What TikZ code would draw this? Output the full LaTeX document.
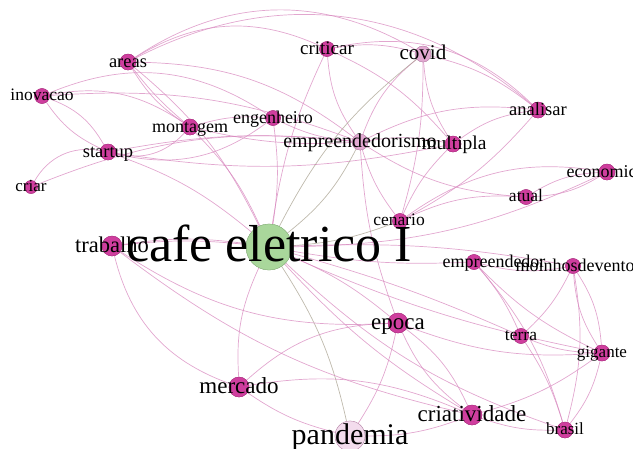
\documentclass[tikz,border=0pt]{standalone}
\usepackage{fontspec}
\setmainfont{Liberation Serif}
\begin{document}
\begin{tikzpicture}[x=1pt,y=-1pt,
  e/.style={draw=edgepink,line width=0.7pt,opacity=0.75},
  eg/.style={draw=edgegray,line width=0.7pt,opacity=0.75},
  dot/.style={circle,fill=nodepink,draw=nodepink!80!black,line width=0.3pt,inner sep=0pt,minimum size=#1},
  dot/.default=15pt,
  lite/.style={circle,fill=nodelite,draw=nodelite!80!black,line width=0.3pt,inner sep=0pt,minimum size=#1},
  hub/.style={circle,fill=nodegreen,draw=nodegreen!80!black,line width=0.3pt,inner sep=0pt,minimum size=46pt},
  lab/.style={anchor=base,inner sep=0pt,text=black,yshift={-0.28pt*#1},font=\fontsize{#1}{#1}\selectfont},
  lab/.default=18
]
\definecolor{edgepink}{HTML}{D889BF}
\definecolor{edgegray}{HTML}{A9A291}
\definecolor{nodepink}{HTML}{CF3E9E}
\definecolor{nodelite}{HTML}{E2A8D1}
\definecolor{nodegreen}{HTML}{A9D79B}
\useasboundingbox (0,0) rectangle (633,448);

% node positions
\coordinate (pcafe) at (269,247);
\coordinate (ptrabalho) at (112,246);
\coordinate (pmercado) at (239,387);
\coordinate (ppandemia) at (350,436);
\coordinate (pcriatividade) at (472,415);
\coordinate (pbrasil) at (565,430);
\coordinate (pgigante) at (602,353);
\coordinate (pterra) at (521,336);
\coordinate (pepoca) at (398,323);
\coordinate (pempreendedor) at (474,262);
\coordinate (pmoinhos) at (573,266);
\coordinate (pcenario) at (400,221);
\coordinate (patual) at (526,197);
\coordinate (peconomico) at (607,172);
\coordinate (pmultipla) at (453,144);
\coordinate (pempreendedorismo) at (360,142);
\coordinate (panalisar) at (538,110);
\coordinate (pcovid) at (423,54);
\coordinate (pcriticar) at (327,49);
\coordinate (pengenheiro) at (273,118);
\coordinate (pmontagem) at (190,127);
\coordinate (pareas) at (128,62);
\coordinate (pinovacao) at (42,96);
\coordinate (pstartup) at (108,152);
\coordinate (pcriar) at (31,187);

% nodes (named, used as edge ends)
\node[hub] (cafe) at (pcafe) {};
\node[dot=20pt] (trabalho) at (ptrabalho) {};
\node[dot=20pt] (mercado) at (pmercado) {};
\node[lite=30pt,fill=nodelite!40] (pandemia) at (ppandemia) {};
\node[dot=20pt] (criatividade) at (pcriatividade) {};
\node[dot=16pt] (brasil) at (pbrasil) {};
\node[dot=16pt] (gigante) at (pgigante) {};
\node[dot=15pt] (terra) at (pterra) {};
\node[dot=20pt] (epoca) at (pepoca) {};
\node[dot=15pt] (empreendedor) at (pempreendedor) {};
\node[dot=15pt] (moinhos) at (pmoinhos) {};
\node[dot=15pt] (cenario) at (pcenario) {};
\node[dot=15pt] (atual) at (patual) {};
\node[dot=16pt] (economico) at (peconomico) {};
\node[dot=16pt] (multipla) at (pmultipla) {};
\node[lite=16pt] (empreendedorismo) at (pempreendedorismo) {};
\node[dot=16pt] (analisar) at (panalisar) {};
\node[lite=16pt] (covid) at (pcovid) {};
\node[dot=15pt] (criticar) at (pcriticar) {};
\node[dot=15pt] (engenheiro) at (pengenheiro) {};
\node[dot=16pt] (montagem) at (pmontagem) {};
\node[dot=16pt] (areas) at (pareas) {};
\node[dot=15pt] (inovacao) at (pinovacao) {};
\node[dot=16pt] (startup) at (pstartup) {};
\node[dot=13pt] (criar) at (pcriar) {};

% upper cluster
\draw[e] (areas) to[bend left=32] (covid);
\draw[e] (areas) to[bend left=34] (analisar);
\draw[e] (areas) to[bend left=28] (criticar);
\draw[e] (criticar) to[bend left=28] (analisar);
\draw[e] (criticar) to[bend left=12] (covid);
\draw[e] (covid) to[bend left=12] (analisar);
\draw[e] (inovacao) to[bend left=28] (engenheiro);
\draw[e] (inovacao) to[bend left=22] (montagem);
\draw[e] (inovacao) to[bend left=12] (empreendedorismo);
\draw[e] (inovacao) to[bend left=20] (startup);
\draw[e] (inovacao) to[bend right=15] (startup);
\draw[e] (areas) to[bend right=12] (montagem);
\draw[e] (areas) to[bend right=6] (montagem);
\draw[e] (areas) to[bend left=12] (cafe);
\draw[e] (areas) to[bend left=18] (empreendedorismo);
\draw[e] (criar) to[bend left=35] (startup);
\draw[e] (criar) to[bend left=14] (empreendedorismo);
\draw[e] (startup) to[bend left=8] (empreendedorismo);
\draw[e] (startup) to[bend right=10] (multipla);
\draw[e] (startup) to[bend right=30] (montagem);
\draw[e] (engenheiro) to[bend left=25] (startup);
\draw[e] (startup) to[bend left=10] (cafe);
\draw[e] (montagem) to[bend left=10] (engenheiro);
\draw[e] (montagem) to[bend left=10] (cafe);
\draw[e] (montagem) to[bend right=8] (empreendedorismo);
\draw[e] (engenheiro) to[bend left=8] (cafe);
\draw[e] (engenheiro) to[bend right=10] (empreendedorismo);
\draw[e] (criticar) to[bend right=15] (empreendedorismo);
\draw[e] (criticar) to[bend left=12] (multipla);
\draw[e] (criticar) to[bend right=8] (cafe);
\draw[e] (covid) to[bend right=15] (empreendedorismo);
\draw[e] (covid) to[bend right=14] (multipla);
\draw[eg] (covid) to[bend right=12] (cafe);
\draw[e] (covid) to[bend left=8] (cenario);
\draw[e] (analisar) to[bend right=16] (empreendedorismo);
\draw[e] (analisar) to[bend right=14] (multipla);
\draw[e] (analisar) to[bend left=10] (cenario);
\draw[e] (empreendedorismo) to[bend left=10] (multipla);
\draw[e] (empreendedorismo) to[bend right=14] (atual);
\draw[eg] (empreendedorismo) to[bend left=12] (cafe);
\draw[e] (empreendedorismo) to[bend right=10] (cenario);
\draw[e] (empreendedorismo) to[bend right=8] (epoca);
\draw[e] (multipla) to[bend right=10] (cenario);
\draw[e] (cenario) to[bend left=14] (atual);
\draw[e] (cenario) to[bend left=22] (economico);
\draw[e] (atual) to[bend left=14] (economico);
\draw[e] (atual) to[bend right=14] (economico);
\draw[e] (economico) to[bend left=12] (cafe);
\draw[eg] (cenario) to[bend left=8] (cafe);

% hub and lower cluster
\draw[e] (cafe) to[bend right=8] (trabalho);
\draw[e] (trabalho) to[bend left=6] (cafe);
\draw[e] (cafe) to[bend right=14] (mercado);
\draw[eg] (cafe) to[bend left=10] (pandemia);
\draw[e] (cafe) to[bend left=8] (epoca);
\draw[e] (cafe) to[bend right=8] (criatividade);
\draw[e] (cafe) to[bend right=6] (empreendedor);
\draw[e] (cafe) to[bend left=6] (moinhos);
\draw[e] (cafe) to[bend right=6] (gigante);
\draw[e] (cafe) to[bend left=4] (terra);
\draw[e] (cafe) to[bend right=12] (brasil);
\draw[e] (trabalho) to[bend right=28] (mercado);
\draw[e] (trabalho) to[bend right=18] (epoca);
\draw[e] (trabalho) to[bend right=12] (criatividade);
\draw[e] (mercado) to[bend left=20] (epoca);
\draw[e] (mercado) to[bend left=16] (criatividade);
\draw[e] (mercado) to[bend right=10] (pandemia);
\draw[e] (epoca) to[bend left=14] (criatividade);
\draw[e] (epoca) to[bend right=14] (criatividade);
\draw[e] (epoca) to[bend left=10] (pandemia);
\draw[e] (epoca) to[bend right=12] (gigante);
\draw[e] (pandemia) to[bend right=10] (criatividade);
\draw[e] (empreendedor) to[bend right=12] (moinhos);
\draw[e] (empreendedor) to[bend left=8] (terra);
\draw[e] (empreendedor) to[bend left=12] (brasil);
\draw[e] (empreendedor) to[bend right=10] (gigante);
\draw[e] (moinhos) to[bend left=10] (terra);
\draw[e] (moinhos) to[bend left=14] (gigante);
\draw[e] (moinhos) to[bend right=14] (gigante);
\draw[e] (moinhos) to[bend left=12] (brasil);
\draw[e] (terra) to[bend right=10] (gigante);
\draw[e] (terra) to[bend left=8] (brasil);
\draw[e] (gigante) to[bend left=12] (brasil);
\draw[e] (gigante) to[bend left=10] (criatividade);
\draw[e] (criatividade) to[bend right=10] (brasil);

% node discs again, above the edges
\node[hub] at (pcafe) {};
\foreach \n/\s in {trabalho/20,mercado/20,criatividade/20,brasil/16,gigante/16,terra/15,epoca/20,empreendedor/15,moinhos/15,cenario/15,atual/15,economico/16,multipla/16,analisar/16,criticar/15,engenheiro/15,montagem/16,areas/16,inovacao/15,startup/16,criar/13}
  \node[dot=\s pt] at (p\n) {};
\node[lite=30pt,fill=nodelite!40] at (ppandemia) {};
\node[lite=16pt] at (pempreendedorismo) {};
\node[lite=16pt] at (pcovid) {};

% labels
\node[lab=52] at (pcafe) {cafe eletrico I};
\node[lab=22.5] at (ptrabalho) {trabalho};
\node[lab=23] at (pmercado) {mercado};
\node[lab=30] at (ppandemia) {pandemia};
\node[lab=23] at (pcriatividade) {criatividade};
\node[lab=17] at (pbrasil) {brasil};
\node[lab=17] at (pgigante) {gigante};
\node[lab=17.5] at (pterra) {terra};
\node[lab=23] at (pepoca) {epoca};
\node[lab=18] at ([xshift=20pt]pempreendedor) {empreendedor};
\node[lab=18] at ([xshift=2pt]pmoinhos) {moinhosdevento};
\node[lab=17.5] at ([xshift=-1pt]pcenario) {cenario};
\node[lab=17.5] at (patual) {atual};
\node[lab=18] at ([xshift=-1pt]peconomico) {economico};
\node[lab=19.5] at ([xshift=1pt]pmultipla) {multipla};
\node[lab=20] at (pempreendedorismo) {empreendedorismo};
\node[lab=18.5] at (panalisar) {analisar};
\node[lab=21] at (pcovid) {covid};
\node[lab=19] at (pcriticar) {criticar};
\node[lab=18] at (pengenheiro) {engenheiro};
\node[lab=18] at (pmontagem) {montagem};
\node[lab=18.5] at (pareas) {areas};
\node[lab=17.5] at (pinovacao) {inovacao};
\node[lab=18.5] at (pstartup) {startup};
\node[lab=17] at (pcriar) {criar};
\end{tikzpicture}
\end{document}
